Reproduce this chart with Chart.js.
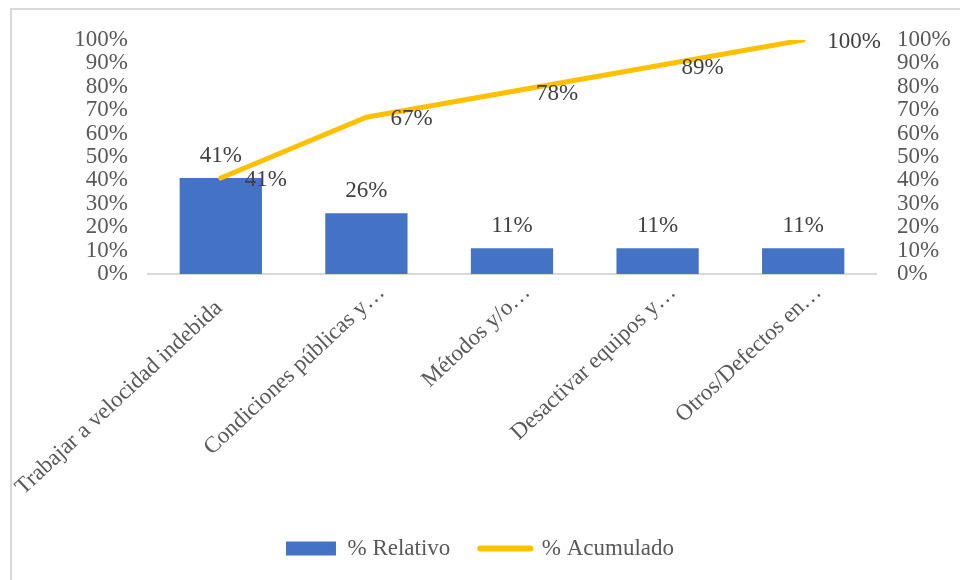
<!DOCTYPE html>
<html>
<head>
<meta charset="utf-8">
<script src="https://cdn.jsdelivr.net/npm/chart.js@4/dist/chart.umd.min.js"></script>
<style>
  html, body { margin: 0; padding: 0; background: #fff; }
  #wrap { width: 960px; height: 580px; position: relative; }
</style>
</head>
<body>
<div id="wrap"><canvas id="pareto-chart" width="960" height="580"></canvas></div>
<script>
const categories = [
  "Trabajar a velocidad indebida",
  "Condiciones públicas y…",
  "Métodos y/o…",
  "Desactivar equipos y…",
  "Otros/Defectos en…",
];
const relativo = [41, 26, 11, 11, 11];
const acumulado = [41, 67, 78, 89, 100];
const tickValues = [0, 10, 20, 30, 40, 50, 60, 70, 80, 90, 100];

const FONT = "'Liberation Serif', 'Times New Roman', serif";
const TEXT = "#595959";
const LABEL = "#404040";

// frame around the chart, like the office export
const framePlugin = {
  id: "frame",
  beforeDraw(chart) {
    const ctx = chart.ctx;
    ctx.save();
    ctx.strokeStyle = "#d9d9d9";
    ctx.lineWidth = 2;
    ctx.beginPath();
    ctx.moveTo(11, 600);
    ctx.lineTo(11, 9);
    ctx.lineTo(980, 9);
    ctx.stroke();
    ctx.restore();
  },
};

const valueLabels = {
  id: "valueLabels",
  afterDatasetsDraw(chart) {
    const ctx = chart.ctx;
    ctx.save();
    ctx.font = "23px " + FONT;
    ctx.fillStyle = LABEL;
    ctx.textBaseline = "middle";
    chart.getDatasetMeta(0).data.forEach((bar, i) => {
      ctx.textAlign = "center";
      ctx.fillText(relativo[i] + "%", bar.x, bar.y - 22);
    });
    chart.getDatasetMeta(1).data.forEach((pt, i) => {
      ctx.textAlign = "left";
      ctx.fillText(acumulado[i] + "%", pt.x + 24, pt.y + 2);
    });
    ctx.restore();
  },
};

const ctx = document.getElementById("pareto-chart").getContext("2d");
const Graph = new Chart(ctx, {
  data: {
    labels: categories,
    datasets: [
      {
        type: "bar",
        label: "% Relativo",
        data: relativo,
        backgroundColor: "#4472C4",
        categoryPercentage: 1,
        barPercentage: 0.565,
        yAxisID: "y",
        order: 2,
      },
      {
        type: "line",
        label: "% Acumulado",
        data: acumulado,
        borderColor: "#FFC000",
        backgroundColor: "#FFC000",
        borderWidth: 5,
        borderCapStyle: "round",
        pointRadius: 0,
        tension: 0,
        yAxisID: "y2",
        order: 1,
      },
    ],
  },
  options: {
    responsive: false,
    animation: false,
    layout: { padding: { top: 40, left: 0, right: 0, bottom: 10 } },
    scales: {
      x: {
        grid: { display: false, drawTicks: false },
        border: { display: true, color: "#d9d9d9", width: 2 },
        ticks: {
          color: TEXT,
          font: { family: FONT, size: 23 },
          minRotation: 43,
          maxRotation: 43,
          autoSkip: false,
          padding: 5,
          labelOffset: 15,
          // the long first label sits a bit further down, as in the original
          callback: function (value, index) {
            const text = this.getLabelForValue(value);
            return index === 0 ? text + "    " : text;
          },
        },
        afterFit: (scale) => {
          scale.height = 233;
          scale.paddingLeft = 0;
          scale.paddingRight = 0;
        },
      },
      y: {
        position: "left",
        min: 0,
        max: 100,
        grid: { display: false, drawTicks: false },
        border: { display: false },
        afterBuildTicks: (scale) => { scale.ticks = tickValues.map((v) => ({ value: v })); },
        ticks: {
          color: TEXT,
          font: { family: FONT, size: 23, lineHeight: 1 },
          autoSkip: false,
          padding: 20,
          callback: (v) => v + "%",
        },
        afterFit: (scale) => { scale.width = 148; },
      },
      y2: {
        position: "right",
        min: 0,
        max: 100,
        grid: { display: false, drawTicks: false },
        border: { display: false },
        afterBuildTicks: (scale) => { scale.ticks = tickValues.map((v) => ({ value: v })); },
        ticks: {
          color: TEXT,
          font: { family: FONT, size: 23, lineHeight: 1 },
          autoSkip: false,
          padding: 21,
          callback: (v) => v + "%",
        },
        afterFit: (scale) => { scale.width = 84; },
      },
    },
    plugins: {
      tooltip: { enabled: false },
      legend: {
        display: true,
        position: "bottom",
        labels: {
          color: TEXT,
          font: { family: FONT, size: 23 },
          usePointStyle: true,
          pointStyleWidth: 50,
          boxHeight: 14,
          padding: 30,
          generateLabels: function (chart) {
            const items = Chart.defaults.plugins.legend.labels.generateLabels(chart);
            items.sort((a, b) => a.datasetIndex - b.datasetIndex);
            items.forEach((item) => {
              if (item.datasetIndex === 0) {
                item.pointStyle = "rect";
                item.lineWidth = 0;
                item.fillStyle = "#4472C4";
              } else {
                item.pointStyle = "line";
                item.lineWidth = 6;
                item.lineCap = "round";
                item.strokeStyle = "#FFC000";
              }
            });
            return items;
          },
        },
      },
    },
  },
  plugins: [framePlugin, valueLabels],
});
</script>
</body>
</html>
